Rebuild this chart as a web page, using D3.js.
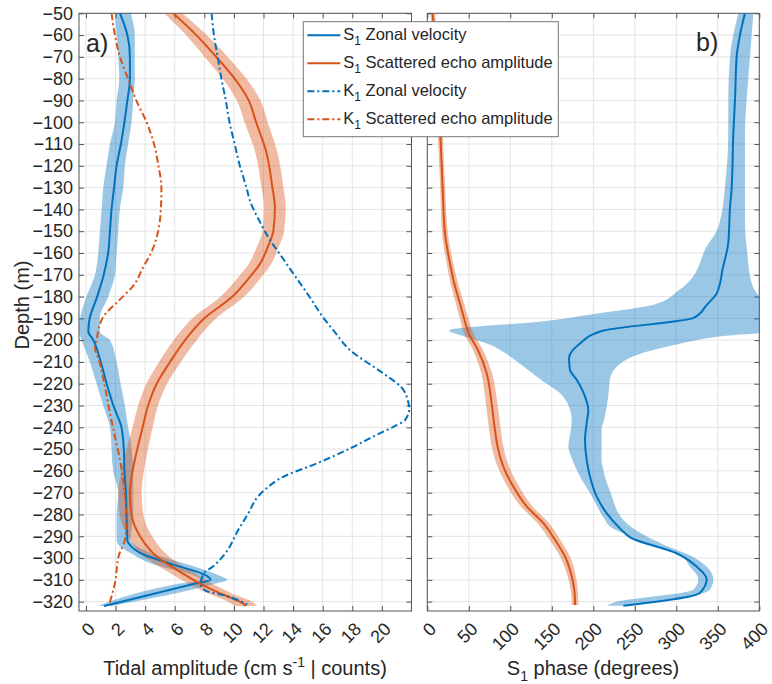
<!DOCTYPE html>
<html>
<head>
<meta charset="utf-8">
<script src="https://cdn.jsdelivr.net/npm/d3@7/dist/d3.min.js"></script>
<style>
  body { margin: 0; background: #fff; }
  svg text { font-family: "Liberation Sans", Arial, Helvetica, sans-serif; fill: #262626; }
</style>
</head>
<body>
<svg width="772" height="684"></svg>
<script>
var svg = d3.select('svg');

// ---- data (depth in m, negative down) ----

// a) S1 zonal velocity amplitude (cm/s) with its confidence band
var s1VelDepth = [-50,-60,-70,-80,-90,-100,-110,-120,-130,-140,-150,-160,-170,-180,-190,-196,-200,-210,-220,-230,-240,-245,-250,-260,-270,-280,-292,-294,-298,-303,-308,-310,-312,-322];
var s1Vel      = [2.3,2.8,2.97,2.97,2.8,2.6,2.36,2.07,1.9,1.73,1.62,1.5,1.2,0.76,0.25,0.16,0.5,1.0,1.4,1.85,2.4,2.5,2.56,2.6,2.7,2.74,2.8,2.97,3.75,5.89,8.13,8.42,7.2,1.22];
var s1VelLo    = [1.96,2.07,2.18,2.25,2.07,1.96,1.62,1.39,1.17,1.06,0.94,0.83,0.61,0.04,-0.4,-0.5,-0.29,0.27,0.72,1.17,1.62,1.7,1.73,1.84,2.18,2.07,2.07,2.2,3.1,4.6,7.3,7.8,6.1,0.8];
var s1VelHi    = [3.03,3.3,3.3,3.3,3.19,3.08,2.85,2.63,2.52,2.29,2.18,2.07,1.96,1.51,0.94,0.94,1.62,2.07,2.34,2.63,2.85,3.0,3.08,3.19,3.19,3.19,3.0,3.3,4.5,6.9,9.0,9.55,8.6,1.7];

// a) S1 scattered echo amplitude (counts) with half-width of its band
var s1EchoDepth = [-50,-60,-70,-80,-90,-100,-113,-130,-139,-150,-157,-165,-171,-180,-190,-200,-210,-220,-230,-240,-250,-260,-270,-280,-290,-300,-306,-311,-316,-320.6,-322];
var s1Echo      = [5.9,7.46,8.8,10.05,11.0,11.5,12.16,12.6,12.77,12.66,12.3,11.76,11.08,9.9,8.0,6.7,5.68,4.78,4.2,3.83,3.47,3.15,2.97,3.08,3.65,4.9,6.28,7.52,9.0,10.56,10.8];
var s1EchoErr   = [0.62,0.7,0.78,0.8,0.8,0.78,0.75,0.74,0.73,0.73,0.74,0.76,0.78,0.8,0.8,0.78,0.74,0.7,0.67,0.68,0.72,0.76,0.79,0.8,0.82,0.84,0.82,0.8,0.8,0.8,0.75];

// a) K1 zonal velocity amplitude (cm/s)
var k1VelDepth = [-50,-60,-70,-80,-90,-100,-110,-120,-130,-136,-145,-154,-160,-170,-180,-190.7,-195.3,-204.5,-215.3,-221.5,-228.4,-231.4,-236.8,-239,-243.6,-249.7,-256.6,-262.7,-268,-272,-279.5,-287,-298,-303.8,-307,-312,-315,-317.3,-321.3];
var k1Vel      = [8.49,8.65,8.9,9.15,9.45,9.7,10.05,10.4,10.85,11.08,11.7,12.43,13.05,14.07,15.1,16.15,16.7,17.84,20.1,21.3,21.78,21.85,21.55,21.0,19.6,17.84,15.6,13.33,12.2,11.6,10.97,10.3,9.4,8.6,7.97,7.75,8.09,9.44,10.9];

// a) K1 scattered echo amplitude (counts)
var k1EchoDepth = [-50,-60,-70,-80,-90,-100,-110,-120,-130,-140,-150,-160,-166.5,-175,-182,-189,-195,-200,-203,-210.6,-221.3,-233.5,-244.2,-254.9,-267,-282.4,-291.6,-298.6,-311.5,-321.8];
var k1Echo      = [1.73,1.96,2.3,2.85,3.4,4.1,4.6,4.9,5.1,5.06,4.88,4.4,3.87,3.2,2.2,1.2,0.85,0.72,0.6,0.94,1.28,1.62,1.96,2.3,2.56,2.74,2.63,2.23,1.96,1.55];

// b) S1 phase of scattered echo amplitude (degrees)
var echoPhDepth = [-50,-70,-90,-108,-130,-151,-158,-166,-174,-184,-191,-197,-204.5,-215.2,-228.9,-241.2,-250.3,-258,-267.2,-276.3,-284,-291.6,-299.3,-308.4,-319.9,-321.5];
var echoPh      = [6.4,11,14,16,18.5,21.3,24,28,32.5,40,45,50,61,71.5,77.5,81.5,85.5,91.6,103.6,119.7,139.8,153.8,165.9,174,178,178];
var echoPhErr   = [3,3,3,3,3,3.5,3.8,4,4.5,5,5.2,5.5,6,6.5,7,7,7,7,7,7,7,6.5,6,5,4,4];

// b) S1 phase of zonal velocity (degrees)
var velPhDepth = [-50,-60,-70,-90,-105,-130,-139,-155,-167,-178.3,-183.7,-189.8,-195.6,-202,-208.3,-213.6,-218.2,-225.9,-232,-238.1,-245.7,-254.9,-262.6,-271.7,-279.4,-286.3,-290.8,-297.8,-303.9,-309.7,-315.9,-321.9];
var velPh      = [382.7,376.7,372.7,370.7,368.7,366.7,364.7,362.7,356,349,337,321,212.6,182.5,170.7,171.9,180,190,194,192,190,192,196,204,216,232,245.8,300.2,324.5,336.6,328.6,236.2];

// b) band of the zonal velocity phase
var velBandDepth = [-50,-70,-90,-105,-130,-142,-150,-158,-166,-171,-177.5,-183.7,-187.5,-191.3,-195.6,-198,-202,-206.5,-213.6,-218,-226,-236.6,-241,-248.8,-255,-259.5,-262.6,-270.2,-282.4,-285.5,-290,-294.7,-298.5,-304,-309.7,-314.6,-320.4,-321.9];
var velBandLo    = [374.7,364.7,362.6,362.6,358.6,354.6,348.6,335,327,320,302,273,209,140,26,42,75,96,121,136,164,174,173,170,175,180,184,196,214,220,245,272,304,316.5,326.5,320.5,225,216];
var velBandHi    = [392.8,388.8,384.7,382.7,382.7,382.7,383,385,387,389,395,410,420,430,430,360,300,255,225,220,218,213,210,210,210,212,214,221,236,245,264,290,315,336.6,344.6,340.6,268,236];

// axis ticks
var depthTicks = d3.range(-50, -321, -10);
var ampTicks = d3.range(0, 21, 2);
var phaseTicks = d3.range(0, 401, 50);

// ---- layout ----
var plotTop = 13.3, plotBottom = 611;
var panelA = {l: 79, r: 411.5};
var panelB = {l: 427.3, r: 759.3};

var blue = '#0072BD', orange = '#D95319';
var dashDot = '7,3,2,3';

var yScale = d3.scaleLinear().domain([-50, -324.3]).range([plotTop, plotBottom]);
var xA = d3.scaleLinear().domain([-0.47, 22]).range([panelA.l, panelA.r]);
var xB = d3.scaleLinear().domain([0, 400]).range([panelB.l, panelB.r]);

function zip(depth) {
  var cols = Array.prototype.slice.call(arguments, 1);
  return depth.map(function (d, i) {
    return [d].concat(cols.map(function (c) { return c[i]; }));
  });
}

function lineGen(x) {
  return d3.line()
    .x(function (d) { return x(d[1]); })
    .y(function (d) { return yScale(d[0]); })
    .curve(d3.curveMonotoneY);
}

function bandGen(x) {
  return d3.area()
    .y(function (d) { return yScale(d[0]); })
    .x0(function (d) { return x(d[1]); })
    .x1(function (d) { return x(d[2]); })
    .curve(d3.curveMonotoneY);
}

function drawFrame(name, x, p, xTicks, yLabels) {
  var g = svg.append('g').attr('class', name);
  var w = p.r - p.l, h = plotBottom - plotTop;

  // grid
  g.append('g').selectAll('line').data(xTicks).enter().append('line')
    .attr('x1', function (d) { return x(d); }).attr('x2', function (d) { return x(d); })
    .attr('y1', plotTop).attr('y2', plotBottom)
    .attr('stroke', '#e4e4e4');
  g.append('g').selectAll('line').data(depthTicks).enter().append('line')
    .attr('y1', function (d) { return yScale(d); }).attr('y2', function (d) { return yScale(d); })
    .attr('x1', p.l).attr('x2', p.r)
    .attr('stroke', '#e4e4e4');

  // inner ticks on all four sides
  var axB = g.append('g').attr('transform', 'translate(0,' + plotBottom + ')')
    .call(d3.axisBottom(x).tickValues(xTicks).tickSizeInner(-5).tickSizeOuter(0).tickPadding(0));
  g.append('g').attr('transform', 'translate(0,' + plotTop + ')')
    .call(d3.axisTop(x).tickValues(xTicks).tickSizeInner(-5).tickSizeOuter(0).tickFormat(''));
  var axL = g.append('g').attr('transform', 'translate(' + p.l + ',0)')
    .call(d3.axisLeft(yScale).tickValues(depthTicks).tickSizeInner(-5).tickSizeOuter(0).tickPadding(6)
      .tickFormat(yLabels ? null : ''));
  g.append('g').attr('transform', 'translate(' + p.r + ',0)')
    .call(d3.axisRight(yScale).tickValues(depthTicks).tickSizeInner(-5).tickSizeOuter(0).tickFormat(''));

  g.selectAll('.domain').remove();
  g.selectAll('.tick line').attr('stroke', '#555');

  axB.selectAll('text')
    .attr('y', 0).attr('dy', '0.32em')
    .attr('text-anchor', 'end')
    .attr('transform', 'translate(5.5,15) rotate(-45)')
    .style('font-size', '18px').style('fill', '#262626');
  axL.selectAll('text')
    .style('font-size', '18px').style('fill', '#262626');

  g.append('rect').attr('x', p.l).attr('y', plotTop).attr('width', w).attr('height', h)
    .attr('fill', 'none').attr('stroke', '#555').attr('stroke-width', 1);

  g.append('clipPath').attr('id', 'clip-' + name)
    .append('rect').attr('x', p.l).attr('y', plotTop).attr('width', w).attr('height', h);
  return g.append('g').attr('clip-path', 'url(#clip-' + name + ')');
}

// ---- panel a ----
var plotA = drawFrame('panelA', xA, panelA, ampTicks, true);
plotA.append('path').datum(zip(s1VelDepth, s1VelLo, s1VelHi))
  .attr('d', bandGen(xA)).attr('fill', blue).attr('fill-opacity', 0.4);
plotA.append('path').datum(zip(s1EchoDepth,
    s1Echo.map(function (v, i) { return v - s1EchoErr[i]; }),
    s1Echo.map(function (v, i) { return v + s1EchoErr[i]; })))
  .attr('d', bandGen(xA)).attr('fill', orange).attr('fill-opacity', 0.4);
plotA.append('path').datum(zip(s1VelDepth, s1Vel))
  .attr('d', lineGen(xA)).attr('fill', 'none').attr('stroke', blue).attr('stroke-width', 2);
plotA.append('path').datum(zip(s1EchoDepth, s1Echo))
  .attr('d', lineGen(xA)).attr('fill', 'none').attr('stroke', orange).attr('stroke-width', 2);
plotA.append('path').datum(zip(k1VelDepth, k1Vel))
  .attr('d', lineGen(xA)).attr('fill', 'none').attr('stroke', blue).attr('stroke-width', 2)
  .attr('stroke-dasharray', dashDot);
plotA.append('path').datum(zip(k1EchoDepth, k1Echo))
  .attr('d', lineGen(xA)).attr('fill', 'none').attr('stroke', orange).attr('stroke-width', 2)
  .attr('stroke-dasharray', dashDot);

// ---- panel b ----
var plotB = drawFrame('panelB', xB, panelB, phaseTicks, false);
plotB.append('path').datum(zip(velBandDepth, velBandLo, velBandHi))
  .attr('d', bandGen(xB)).attr('fill', blue).attr('fill-opacity', 0.4);
plotB.append('path').datum(zip(echoPhDepth,
    echoPh.map(function (v, i) { return v - echoPhErr[i]; }),
    echoPh.map(function (v, i) { return v + echoPhErr[i]; })))
  .attr('d', bandGen(xB)).attr('fill', orange).attr('fill-opacity', 0.4);
plotB.append('path').datum(zip(velPhDepth, velPh))
  .attr('d', lineGen(xB)).attr('fill', 'none').attr('stroke', blue).attr('stroke-width', 2);
plotB.append('path').datum(zip(echoPhDepth, echoPh))
  .attr('d', lineGen(xB)).attr('fill', 'none').attr('stroke', orange).attr('stroke-width', 2);

// ---- labels ----
svg.append('text').attr('x', 86).attr('y', 52).style('font-size', '25px').text('a)');
svg.append('text').attr('x', 696).attr('y', 51).style('font-size', '25px').text('b)');

svg.append('text')
  .attr('transform', 'translate(29,305) rotate(-90)')
  .attr('text-anchor', 'middle')
  .style('font-size', '20px').text('Depth (m)');

var xl = svg.append('text').attr('x', 245).attr('y', 675).attr('text-anchor', 'middle').style('font-size', '20px');
xl.append('tspan').text('Tidal amplitude (cm s');
xl.append('tspan').attr('dy', -8).style('font-size', '14px').text('-1');
xl.append('tspan').attr('dy', 8).text(' | counts)');

var xl2 = svg.append('text').attr('x', 593).attr('y', 675).attr('text-anchor', 'middle').style('font-size', '20px');
xl2.append('tspan').text('S');
xl2.append('tspan').attr('dy', 6).style('font-size', '14px').text('1');
xl2.append('tspan').attr('dy', -6).text(' phase (degrees)');

// ---- legend ----
var legendItems = [
  {sym: 'S', name: 'Zonal velocity', color: blue, dash: null},
  {sym: 'S', name: 'Scattered echo amplitude', color: orange, dash: null},
  {sym: 'K', name: 'Zonal velocity', color: blue, dash: dashDot},
  {sym: 'K', name: 'Scattered echo amplitude', color: orange, dash: dashDot}
];
var lg = svg.append('g').attr('transform', 'translate(303.3,21.7)');
lg.append('rect').attr('width', 255).attr('height', 115)
  .attr('fill', '#fff').attr('stroke', '#777').attr('stroke-width', 1);
var li = lg.selectAll('.item').data(legendItems).enter().append('g')
  .attr('class', 'item')
  .attr('transform', function (d, i) { return 'translate(0,' + (13.5 + i * 28) + ')'; });
li.append('line').attr('x1', 4).attr('x2', 37).attr('y1', 0).attr('y2', 0)
  .attr('stroke', function (d) { return d.color; }).attr('stroke-width', 2)
  .attr('stroke-dasharray', function (d) { return d.dash; });
var lt = li.append('text').attr('x', 40).attr('y', 5).style('font-size', '16.5px');
lt.append('tspan').text(function (d) { return d.sym; });
lt.append('tspan').attr('dy', 5).style('font-size', '12px').text('1');
lt.append('tspan').attr('dy', -5).text(function (d) { return ' ' + d.name; });
</script>
</body>
</html>
